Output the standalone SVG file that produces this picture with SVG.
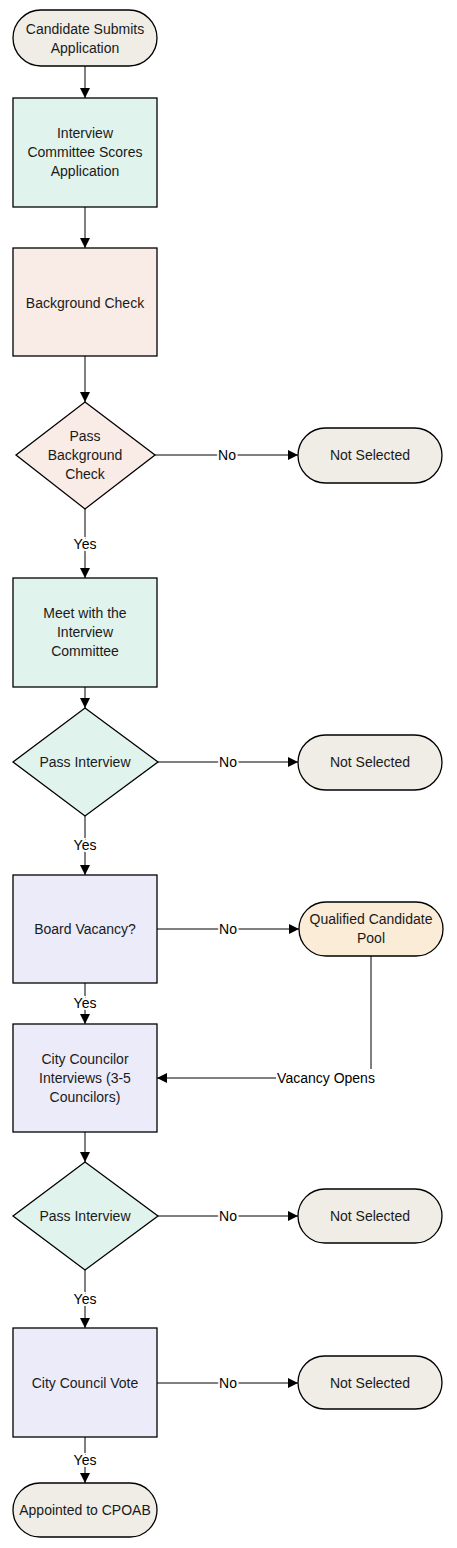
<svg xmlns="http://www.w3.org/2000/svg" width="457" height="1548" viewBox="0 0 457 1548">
<style>
.t{font-family:"Liberation Sans",Arial,sans-serif;font-size:14px;fill:#1a1a1a;text-anchor:middle;dominant-baseline:central}
.l{font-family:"Liberation Sans",Arial,sans-serif;font-size:14px;fill:#000;text-anchor:middle;dominant-baseline:central;paint-order:stroke;stroke:#fff;stroke-width:4px}
.term{fill:#f0ede6;stroke:#000;stroke-width:1.3}
.g{fill:#e0f3ec;stroke:#000;stroke-width:1.3}
.p{fill:#f9ebe5;stroke:#000;stroke-width:1.3}
.v{fill:#ebebfa;stroke:#000;stroke-width:1.3}
.o{fill:#fbecd7;stroke:#000;stroke-width:1.3}
.c{fill:none;stroke:#000;stroke-width:1;marker-end:url(#ah)}
</style>
<defs>
<marker id="ah" markerWidth="10" markerHeight="10" refX="10" refY="5" orient="auto" markerUnits="userSpaceOnUse">
<path d="M0,0 L10,5 L0,10 Z" fill="#000"/>
</marker>
</defs>
<g id="connectors">
<path class="c" d="M85,66 V98"/>
<path class="c" d="M85,207 V248"/>
<path class="c" d="M85,356 V402"/>
<path class="c" d="M155,455 H298"/>
<path class="c" d="M85,509 V578"/>
<path class="c" d="M85,687 V708"/>
<path class="c" d="M158,762 H298"/>
<path class="c" d="M85,816 V875"/>
<path class="c" d="M157,929 H299"/>
<path class="c" d="M85,983 V1024"/>
<path class="c" d="M371,956 V1078 H157"/>
<path class="c" d="M85,1132 V1162"/>
<path class="c" d="M158,1216 H298"/>
<path class="c" d="M85,1270 V1328"/>
<path class="c" d="M157,1383 H298"/>
<path class="c" d="M85,1437 V1483"/>
<text class="l" x="227" y="455">No</text>
<text class="l" x="85" y="544">Yes</text>
<text class="l" x="228" y="762">No</text>
<text class="l" x="85" y="845">Yes</text>
<text class="l" x="228" y="929">No</text>
<text class="l" x="85" y="1003">Yes</text>
<rect x="276" y="1069" width="102" height="18" fill="#fff"/>
<text class="l" x="326" y="1078">Vacancy Opens</text>
<text class="l" x="228" y="1216">No</text>
<text class="l" x="85" y="1299">Yes</text>
<text class="l" x="228" y="1383">No</text>
<text class="l" x="85" y="1460">Yes</text>
</g>
<g id="start"><rect class="term" x="13" y="10" width="144" height="56" rx="28"/><text class="t" x="85" y="29">Candidate Submits</text><text class="t" x="85" y="48">Application</text></g>
<g id="score"><rect class="g" x="13" y="98" width="144" height="109"/><text class="t" x="85" y="133">Interview</text><text class="t" x="85" y="152">Committee Scores</text><text class="t" x="85" y="171">Application</text></g>
<g id="bgcheck"><rect class="p" x="13" y="248" width="144" height="108"/><text class="t" x="85" y="303">Background Check</text></g>
<g id="passbg"><polygon class="p" points="85,402 155,455 85,509 16,455"/><text class="t" x="85" y="436">Pass</text><text class="t" x="85" y="455">Background</text><text class="t" x="85" y="474">Check</text></g>
<g id="ns1"><rect class="term" x="298" y="428" width="144" height="55" rx="27.5"/><text class="t" x="370" y="455">Not Selected</text></g>
<g id="meet"><rect class="g" x="13" y="578" width="144" height="109"/><text class="t" x="85" y="613">Meet with the</text><text class="t" x="85" y="632">Interview</text><text class="t" x="85" y="651">Committee</text></g>
<g id="passint1"><polygon class="g" points="85,708 158,762 85,816 13,762"/><text class="t" x="85" y="762">Pass Interview</text></g>
<g id="ns2"><rect class="term" x="298" y="735" width="144" height="55" rx="27.5"/><text class="t" x="370" y="762">Not Selected</text></g>
<g id="vacancy"><rect class="v" x="13" y="875" width="144" height="108"/><text class="t" x="85" y="929">Board Vacancy?</text></g>
<g id="pool"><rect class="o" x="299" y="902" width="144" height="54" rx="27"/><text class="t" x="371" y="919">Qualified Candidate</text><text class="t" x="371" y="938">Pool</text></g>
<g id="councilint"><rect class="v" x="13" y="1024" width="144" height="108"/><text class="t" x="85" y="1059">City Councilor</text><text class="t" x="85" y="1078">Interviews (3-5</text><text class="t" x="85" y="1097">Councilors)</text></g>
<g id="passint2"><polygon class="g" points="85,1162 158,1216 85,1270 13,1216"/><text class="t" x="85" y="1216">Pass Interview</text></g>
<g id="ns3"><rect class="term" x="298" y="1189" width="144" height="54" rx="27"/><text class="t" x="370" y="1216">Not Selected</text></g>
<g id="vote"><rect class="v" x="13" y="1328" width="144" height="109"/><text class="t" x="85" y="1383">City Council Vote</text></g>
<g id="ns4"><rect class="term" x="298" y="1356" width="144" height="53" rx="26.5"/><text class="t" x="370" y="1383">Not Selected</text></g>
<g id="appointed"><rect class="term" x="13" y="1483" width="144" height="54" rx="27"/><text class="t" x="85" y="1510">Appointed to CPOAB</text></g>
</svg>
